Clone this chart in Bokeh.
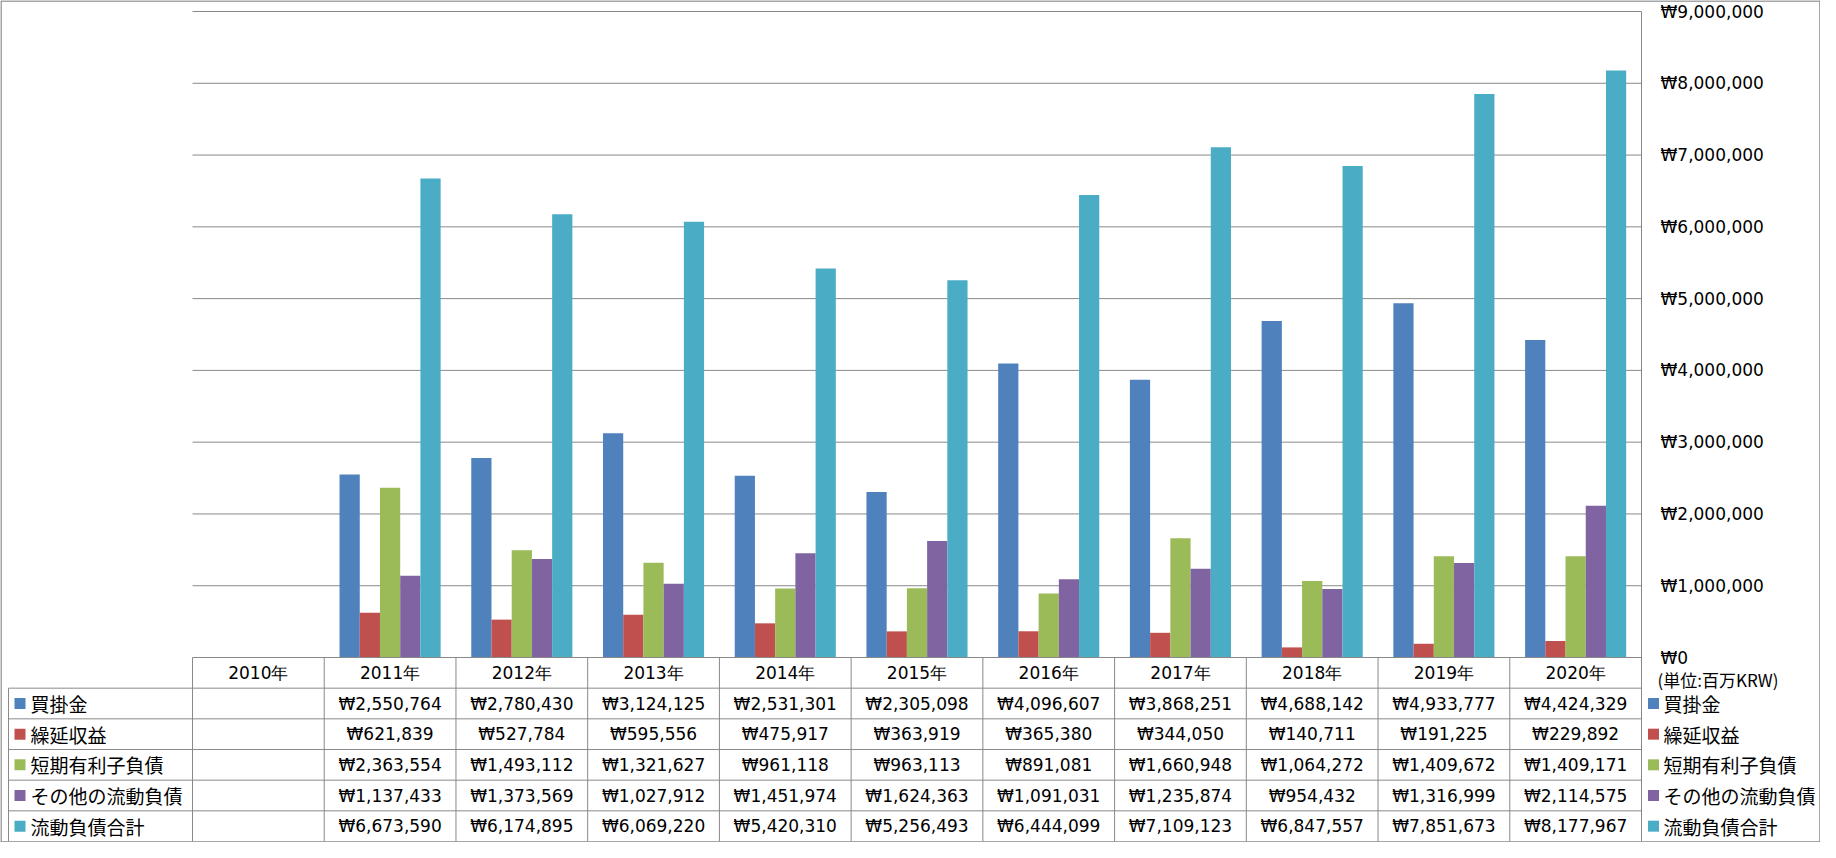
import numpy as np
from bokeh.plotting import figure
from bokeh.models import Range1d, ColumnDataSource
from bokeh.core.properties import value
from bokeh.embed import file_html
from bokeh.resources import INLINE

# ---------------- data ----------------
years = ["2010年", "2011年", "2012年", "2013年", "2014年", "2015年",
         "2016年", "2017年", "2018年", "2019年", "2020年"]
series_names = ["買掛金", "繰延収益", "短期有利子負債", "その他の流動負債", "流動負債合計"]
colors = ["#4F81BD", "#C0504D", "#9BBB59", "#8064A2", "#4BACC6"]

accounts_payable = [None, 2550764, 2780430, 3124125, 2531301, 2305098,
                    4096607, 3868251, 4688142, 4933777, 4424329]
deferred_revenue = [None, 621839, 527784, 595556, 475917, 363919,
                    365380, 344050, 140711, 191225, 229892]
short_term_debt = [None, 2363554, 1493112, 1321627, 961118, 963113,
                   891081, 1660948, 1064272, 1409672, 1409171]
other_current = [None, 1137433, 1373569, 1027912, 1451974, 1624363,
                 1091031, 1235874, 954432, 1316999, 2114575]
total_current = [None, 6673590, 6174895, 6069220, 5420310, 5256493,
                 6444099, 7109123, 6847557, 7851673, 8177967]
series_values = [accounts_payable, deferred_revenue, short_term_debt,
                 other_current, total_current]

tick_values = [0, 1000000, 2000000, 3000000, 4000000, 5000000,
               6000000, 7000000, 8000000, 9000000]
unit_label = "(単位:百万KRW)"

# ---------------- layout (pixels) ----------------
W, H = 1820, 842
PL, PR = 192, 1641          # plot area left / right
Y0, YTOP = 657, 11          # pixel rows of value 0 and of the top tick
TB = 841                    # table bottom
NROWS = 6
ROW_H = (TB - Y0) / NROWS
LEG_L = 8                   # left edge of legend column
vmax = tick_values[-1]

ncat = len(years)
cat_w = (PR - PL) / ncat
k = (Y0 - YTOP) / vmax      # px per value unit

GRID = "#898989"
NUM_FONT = value("DejaVu Sans")
JP_FONT = value("Noto Sans CJK JP")
NUM_SIZE = "17px"

p = figure(width=W, height=H, title=None, output_backend="svg",
           toolbar_location=None, min_border=0,
           x_axis_location=None, y_axis_location=None,
           x_range=Range1d(-PL / cat_w, (W - PL) / cat_w),
           y_range=Range1d((Y0 - H) / k, Y0 / k))
p.grid.visible = False
p.outline_line_color = None
p.background_fill_color = "white"
p.border_fill_color = "white"
p.extra_x_ranges = {"px": Range1d(0, W)}
p.extra_y_ranges = {"py": Range1d(H, 0),
                    "tbl": Range1d((H - Y0) / ROW_H, -Y0 / ROW_H)}

# gridlines
gt = tick_values[1:]
p.segment(x0=[0] * len(gt), x1=[ncat] * len(gt), y0=gt, y1=gt,
          line_color=GRID, line_width=1)

# bars
bw = 0.1535
for i, (name, vals, col) in enumerate(zip(series_names, series_values, colors)):
    xs = [j + 0.5 + (i - 2) * bw for j, v in enumerate(vals) if v is not None]
    ts = [v for v in vals if v is not None]
    src = ColumnDataSource(dict(x=xs, top=ts))
    p.vbar(x="x", top="top", bottom=0, width=bw, source=src,
           fill_color=col, line_color=None)

# right axis labels
p.text(x=[PR + 19] * len(tick_values), y=tick_values,
       text=["₩{:,}".format(v) for v in tick_values],
       x_range_name="px", text_baseline="middle", text_align="left",
       text_font=NUM_FONT, text_font_size=NUM_SIZE, text_color="black")
p.text(x=[PR + 16], y=[Y0 + 22], text=[unit_label],
       x_range_name="px", y_range_name="py",
       text_baseline="middle", text_align="left",
       text_font=JP_FONT, text_font_size="17px", text_color="black")

# table lines
hx0 = [PL] + [LEG_L] * (NROWS - 1)
hx1 = [PR] * NROWS
hy = list(range(NROWS))
p.segment(x0=hx0, x1=hx1, y0=hy, y1=hy, x_range_name="px", y_range_name="tbl",
          line_color=GRID, line_width=1)
vx = list(range(ncat))
p.segment(x0=vx, x1=vx, y0=[0] * ncat, y1=[NROWS] * ncat, y_range_name="tbl",
          line_color=GRID, line_width=1)
p.segment(x0=[LEG_L], x1=[LEG_L], y0=[1], y1=[NROWS], x_range_name="px",
          y_range_name="tbl", line_color=GRID, line_width=1)
p.segment(x0=[ncat], x1=[ncat], y0=[YTOP], y1=[TB], y_range_name="py",
          line_color=GRID, line_width=1)

# outer border
p.quad(left=[0.5], right=[W - 0.5], top=[0.5], bottom=[H - 0.5],
       x_range_name="px", y_range_name="py",
       fill_color=None, line_color=GRID, line_width=1.5)

# table header
p.text(x=[j + 0.5 for j in range(ncat)], y=[0.5] * ncat, text=years,
       y_range_name="tbl", text_align="center", text_baseline="middle",
       text_font=NUM_FONT, text_font_size=NUM_SIZE, text_color="black")

# table values
for i, vals in enumerate(series_values):
    xs = [j + 0.5 for j, v in enumerate(vals) if v is not None]
    ts = ["₩{:,}".format(v) for v in vals if v is not None]
    p.text(x=xs, y=[i + 1.5] * len(xs), text=ts, y_range_name="tbl",
           text_align="center", text_baseline="middle",
           text_font=NUM_FONT, text_font_size=NUM_SIZE, text_color="black")

# legend keys (left and right of the table)
ry = [i + 1.5 for i in range(len(series_names))]
for lx, tx in [(LEG_L + 11.5, LEG_L + 22), (PR + 12, PR + 22)]:
    p.scatter(x=[lx] * len(ry), y=ry, marker="square", size=11,
              fill_color=colors, line_color=None,
              x_range_name="px", y_range_name="tbl")
    p.text(x=[tx] * len(ry), y=ry, text=series_names,
           x_range_name="px", y_range_name="tbl",
           text_align="left", text_baseline="middle",
           text_font=JP_FONT, text_font_size="19px", text_color="black")

open("out.html", "w").write(file_html(p, INLINE))
